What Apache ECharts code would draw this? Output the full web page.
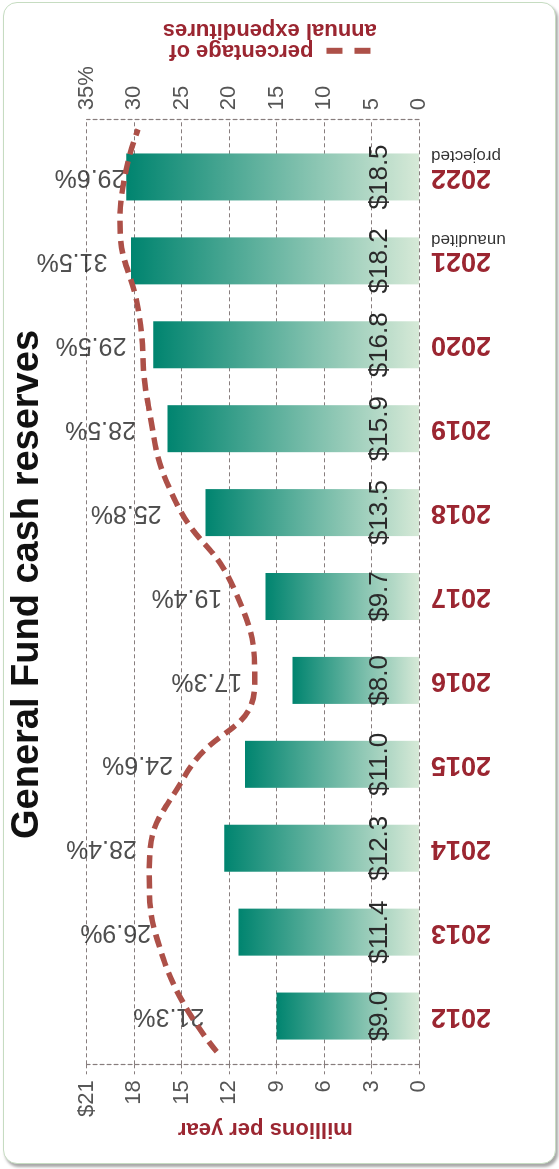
<!DOCTYPE html>
<html>
<head>
<meta charset="utf-8">
<title>General Fund cash reserves</title>
<script src="https://cdn.jsdelivr.net/npm/echarts@6/dist/echarts.min.js"></script>
<style>
  body { margin: 0; background: #fff; }
  #wrap { position: relative; width: 559px; height: 1169px; overflow: hidden; }
  #frame {
    position: absolute; left: 3px; top: 2px; width: 553px; height: 1162px;
    box-sizing: border-box; border: 1.5px solid #c6dcc1; border-radius: 14px;
    box-shadow: 2px 3px 3px rgba(0, 0, 0, 0.35); background: #fff;
  }
  /* the chart is laid out upright, then turned a quarter left like the reference */
  #chart {
    position: absolute; left: 0; top: 0; width: 1169px; height: 559px;
    transform-origin: 0 0; transform: translateY(1169px) rotate(-90deg);
  }
</style>
</head>
<body>
<div id="wrap">
  <div id="frame"></div>
  <div id="chart"></div>
</div>
<script>
  const years = ['2012', '2013', '2014', '2015', '2016', '2017', '2018', '2019', '2020', '2021', '2022']
  const reserves = [9.0, 11.4, 12.3, 11.0, 8.0, 9.7, 13.5, 15.9, 16.8, 18.2, 18.5]
  const pctOfExpenditures = [21.3, 26.9, 28.4, 24.6, 17.3, 19.4, 25.8, 28.5, 29.5, 31.5, 29.6]
  const yearNotes = { '2021': 'unaudited', '2022': 'projected' }
  const dollarMax = 21
  const dollarStep = 3
  const pctMax = 35
  const pctStep = 5

  const red = '#9b2631'
  const lineRed = '#ad5048'
  const gridGray = '#877d7d'
  const font = 'Liberation Sans, Arial, sans-serif'

  const dashed = { color: gridGray, type: [4, 3], width: 1.2 }
  const gridTop = 86.7
  const gridBottom = 140

  const option = {
    animation: false,
    textStyle: { fontFamily: font },
    title: {
      text: 'General Fund cash reserves',
      left: 'center',
      top: 8,
      padding: [0, 6, 0, 6],
      backgroundColor: '#fff',
      textStyle: {
        fontFamily: font,
        fontWeight: 'bold',
        fontSize: 38,
        lineHeight: 40,
        color: '#111'
      }
    },
    grid: [
      { left: 104.7, right: 119.3, top: gridTop, bottom: gridBottom },
      { left: 111, right: 135, top: gridTop, bottom: gridBottom },
      { left: 117.3, right: 129.3, top: gridTop, bottom: gridBottom }
    ],
    xAxis: [
      { gridIndex: 0, type: 'value', min: 0, max: 1, show: false },
      {
        gridIndex: 1,
        type: 'category',
        data: years,
        axisLine: { show: false },
        axisTick: { show: false },
        axisLabel: {
          rotate: 90,
          margin: 12,
          formatter: function (v) {
            return yearNotes[v] ? '{s| }\n{y|' + v + '}\n{s|' + yearNotes[v] + '}' : '{y|' + v + '}'
          },
          rich: {
            y: { fontFamily: font, fontSize: 27, fontWeight: 'bold', color: red, lineHeight: 24 },
            s: { fontFamily: font, fontSize: 17, color: '#333', lineHeight: 18 }
          }
        }
      },
      { gridIndex: 2, type: 'category', data: years, boundaryGap: false, show: false }
    ],
    yAxis: [
      {
        gridIndex: 0,
        type: 'value',
        position: 'left',
        min: 0,
        max: dollarMax,
        interval: dollarStep,
        axisLine: { show: true, lineStyle: dashed },
        axisTick: { show: true, length: 10, lineStyle: dashed },
        splitLine: { show: true, lineStyle: dashed },
        axisLabel: {
          margin: 16,
          fontSize: 22,
          color: '#555',
          formatter: function (v) { return v === dollarMax ? '$' + v : v }
        },
        name: 'millions per year',
        nameLocation: 'middle',
        nameRotate: 90,
        nameGap: 54,
        nameMoveOverlap: false,
        nameTextStyle: { fontSize: 22, fontWeight: 'bold', color: red, padding: [0, 25, 0, 0] }
      },
      {
        gridIndex: 0,
        type: 'value',
        position: 'right',
        min: 0,
        max: pctMax,
        interval: pctStep,
        axisLine: { show: true, lineStyle: dashed },
        axisTick: { show: false },
        splitLine: { show: false },
        axisLabel: {
          margin: 9,
          fontSize: 22,
          color: '#555',
          formatter: function (v) { return v === pctMax ? v + '%' : v }
        },
        name: '{d|}{g|}{d|}{h|}percentage of\nannual expenditures',
        nameLocation: 'middle',
        nameRotate: 90,
        nameGap: 58,
        nameMoveOverlap: false,
        nameTextStyle: {
          fontSize: 22,
          fontWeight: 'bold',
          color: red,
          lineHeight: 21,
          padding: [0, 34, 0, 0],
          rich: {
            d: { width: 16, height: 6, backgroundColor: lineRed },
            g: { width: 12 },
            h: { width: 13 }
          }
        }
      },
      { gridIndex: 1, type: 'value', min: 0, max: dollarMax, show: false },
      { gridIndex: 1, type: 'value', min: 0, max: pctMax, show: false },
      { gridIndex: 2, type: 'value', min: 0, max: pctMax, show: false }
    ],
    series: [
      {
        name: 'reserves',
        type: 'bar',
        xAxisIndex: 1,
        yAxisIndex: 2,
        data: reserves,
        barWidth: 47,
        itemStyle: {
          color: new echarts.graphic.LinearGradient(0, 0, 0, 1, [
            { offset: 0, color: '#00846f' },
            { offset: 1, color: '#d6e9d7' }
          ])
        },
        label: {
          show: true,
          position: 'insideBottom',
          distance: 26,
          fontSize: 26,
          color: '#2a2a2a',
          formatter: function (p) { return '$' + p.value.toFixed(1) }
        }
      },
      {
        name: 'pct labels',
        type: 'scatter',
        xAxisIndex: 1,
        yAxisIndex: 3,
        data: pctOfExpenditures,
        symbolSize: 1,
        itemStyle: { color: 'rgba(0,0,0,0)' },
        label: {
          show: true,
          position: 'top',
          distance: 12,
          rotate: 90,
          align: 'left',
          verticalAlign: 'middle',
          fontSize: 25,
          color: '#222',
          formatter: function (p) { return p.value.toFixed(1) + '%' }
        }
      },
      {
        name: 'percentage of annual expenditures',
        type: 'line',
        xAxisIndex: 2,
        yAxisIndex: 4,
        data: pctOfExpenditures,
        smooth: true,
        showSymbol: false,
        lineStyle: { color: lineRed, width: 5.5, type: [13, 7] },
        z: 5
      }
    ]
  }

  const chart = echarts.init(document.getElementById('chart'))
  chart.setOption(option)
</script>
</body>
</html>
